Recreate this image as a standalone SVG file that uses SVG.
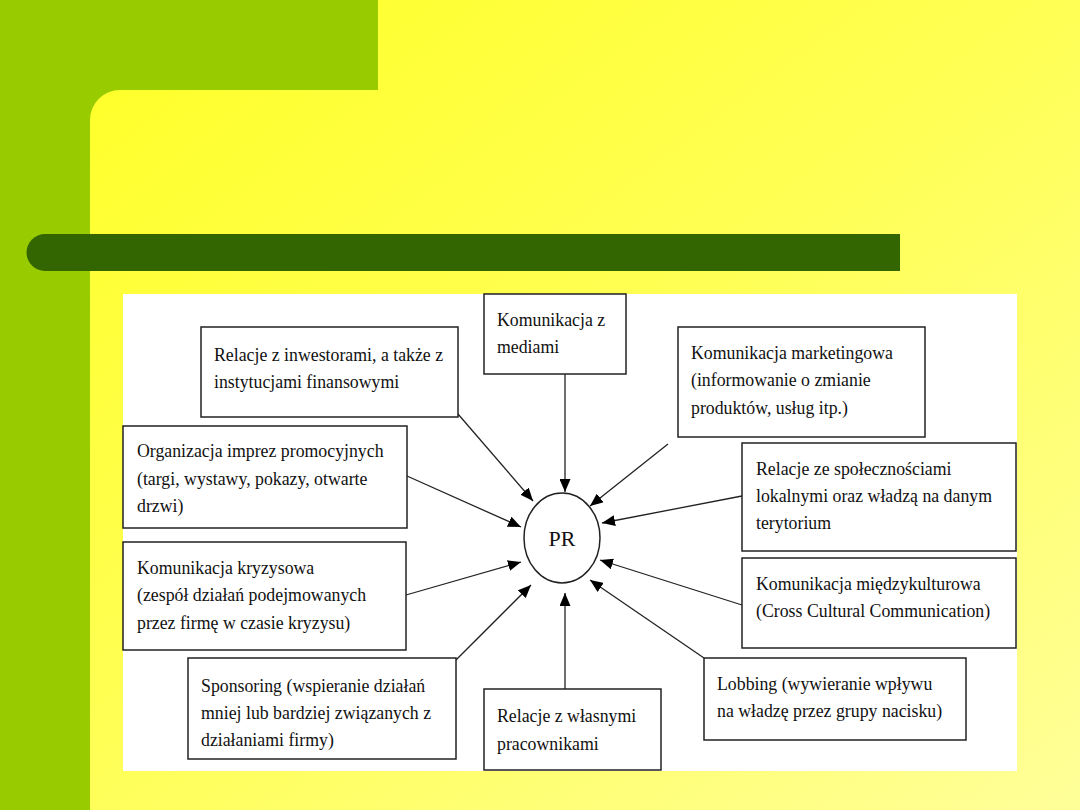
<svg xmlns="http://www.w3.org/2000/svg" width="1080" height="810" viewBox="0 0 1080 810">
<defs>
<linearGradient id="bg" x1="0" y1="0" x2="1" y2="1">
<stop offset="0" stop-color="#FFFF22"/>
<stop offset="0.5" stop-color="#FFFF55"/>
<stop offset="1" stop-color="#FFFF99"/>
</linearGradient>
<marker id="ah" markerWidth="13" markerHeight="11" refX="13" refY="5.5" orient="auto" markerUnits="userSpaceOnUse">
<path d="M0,0 L13,5.5 L0,11 Z" fill="#000"/>
</marker>
<style>
.box{fill:#fff;stroke:#222;stroke-width:1.5}
.t{font-family:"Liberation Serif","Times New Roman",serif;font-size:17.8px;fill:#111}
.c{stroke:#222;stroke-width:1.3;fill:none;marker-end:url(#ah)}
</style>
</defs>
<rect width="1080" height="810" fill="url(#bg)"/>
<path d="M0,0 H378 V90 H120 A30,30 0 0 0 90,120 V810 H0 Z" fill="#99CC00"/>
<path d="M45,234 H900 V271 H45 A18.5,18.5 0 0 1 45,234 Z" fill="#336600"/>
<rect x="123" y="294" width="894" height="477" fill="#fff"/>

<g id="connectors">
<line class="c" x1="458" y1="414" x2="533" y2="501"/>
<line class="c" x1="565" y1="374" x2="565" y2="492"/>
<line class="c" x1="668" y1="444" x2="590" y2="506"/>
<line class="c" x1="407" y1="476" x2="521" y2="527"/>
<line class="c" x1="742" y1="496" x2="602" y2="523"/>
<line class="c" x1="406" y1="595" x2="521" y2="562"/>
<line class="c" x1="742" y1="605" x2="600" y2="560"/>
<line class="c" x1="456" y1="660" x2="531" y2="585"/>
<line class="c" x1="565" y1="689" x2="565" y2="593"/>
<line class="c" x1="704" y1="658" x2="590" y2="580"/>
</g>

<g id="pr">
<ellipse cx="562" cy="538" rx="38" ry="45" fill="#fff" stroke="#222" stroke-width="1.5"/>
<text class="t" x="562" y="546" text-anchor="middle" style="font-size:22px">PR</text>
</g>

<g id="n1">
<rect class="box" x="201" y="327" width="257" height="90"/>
<text class="t" x="214" y="361">Relacje z inwestorami, a także z</text>
<text class="t" x="214" y="388">instytucjami finansowymi</text>
</g>
<g id="n2">
<rect class="box" x="484" y="294" width="142" height="80"/>
<text class="t" x="497" y="326">Komunikacja z</text>
<text class="t" x="497" y="353">mediami</text>
</g>
<g id="n3">
<rect class="box" x="678" y="327" width="247" height="110"/>
<text class="t" x="691" y="359">Komunikacja marketingowa</text>
<text class="t" x="691" y="386">(informowanie o zmianie</text>
<text class="t" x="691" y="414">produktów, usług itp.)</text>
</g>
<g id="n4">
<rect class="box" x="123" y="426" width="284" height="102"/>
<text class="t" x="137" y="457">Organizacja imprez promocyjnych</text>
<text class="t" x="137" y="485">(targi, wystawy, pokazy, otwarte</text>
<text class="t" x="137" y="512">drzwi)</text>
</g>
<g id="n5">
<rect class="box" x="742" y="443" width="274" height="108"/>
<text class="t" x="756" y="475">Relacje ze społecznościami</text>
<text class="t" x="756" y="502">lokalnymi oraz władzą na danym</text>
<text class="t" x="756" y="529">terytorium</text>
</g>
<g id="n6">
<rect class="box" x="123" y="542" width="283" height="108"/>
<text class="t" x="137" y="574">Komunikacja kryzysowa</text>
<text class="t" x="137" y="601">(zespół działań podejmowanych</text>
<text class="t" x="137" y="629">przez firmę w czasie kryzysu)</text>
</g>
<g id="n7">
<rect class="box" x="742" y="558" width="274" height="90"/>
<text class="t" x="756" y="590">Komunikacja międzykulturowa</text>
<text class="t" x="756" y="617">(Cross Cultural Communication)</text>
</g>
<g id="n8">
<rect class="box" x="188" y="658" width="268" height="101"/>
<text class="t" x="201" y="692">Sponsoring (wspieranie działań</text>
<text class="t" x="201" y="719">mniej lub bardziej związanych z</text>
<text class="t" x="201" y="746">działaniami firmy)</text>
</g>
<g id="n9">
<rect class="box" x="484" y="689" width="177" height="81"/>
<text class="t" x="497" y="722">Relacje z własnymi</text>
<text class="t" x="497" y="750">pracownikami</text>
</g>
<g id="n10">
<rect class="box" x="704" y="658" width="262" height="82"/>
<text class="t" x="717" y="690">Lobbing (wywieranie wpływu</text>
<text class="t" x="717" y="717">na władzę przez grupy nacisku)</text>
</g>
</svg>
